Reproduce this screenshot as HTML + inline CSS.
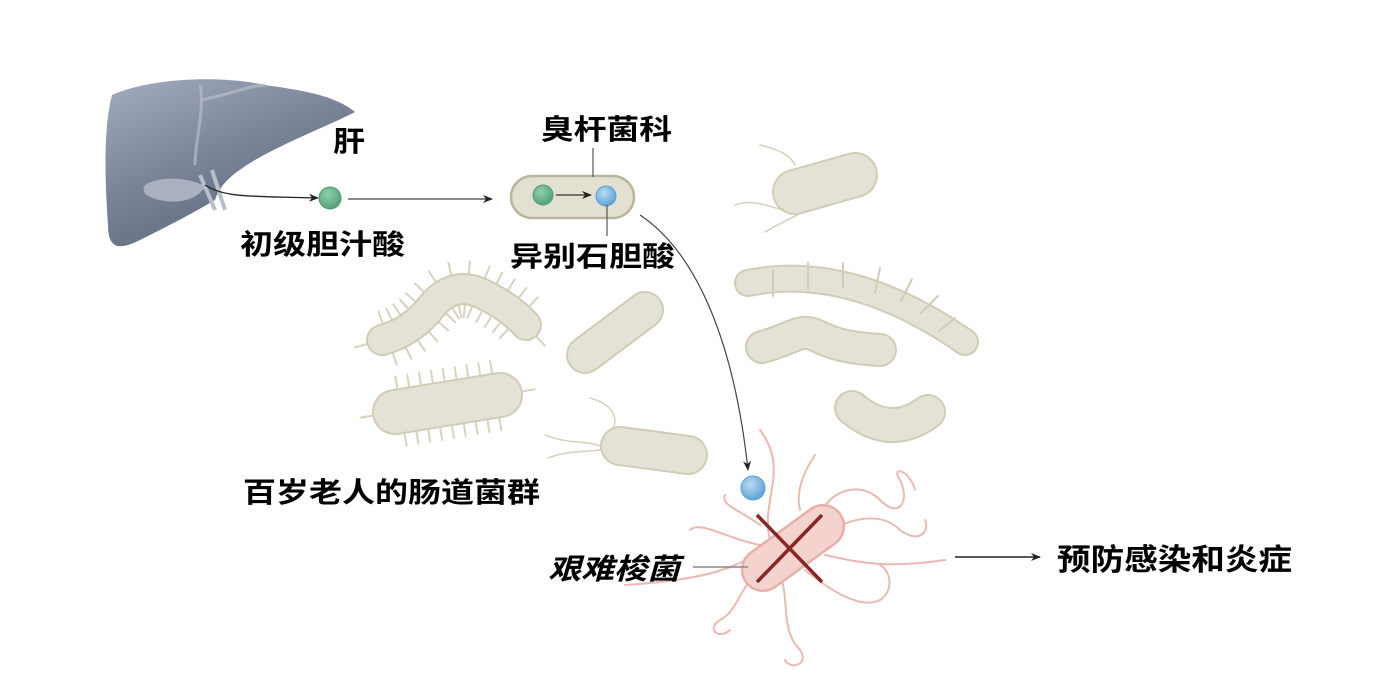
<!DOCTYPE html>
<html><head><meta charset="utf-8">
<style>
html,body{margin:0;padding:0;background:#fff;}
svg{display:block;}
text{font-family:"Liberation Sans","Noto Sans CJK SC",sans-serif;fill:#000;font-weight:bold;}
</style></head>
<body>
<svg id="s" width="1377" height="678" viewBox="0 0 1377 678" xmlns="http://www.w3.org/2000/svg">
<defs>
<linearGradient id="lv" x1="0" y1="0" x2="0.6" y2="1">
<stop offset="0" stop-color="#a4adbf"/><stop offset="0.5" stop-color="#7c8599"/><stop offset="1" stop-color="#5c6579"/>
</linearGradient>
<radialGradient id="gb" cx="0.4" cy="0.35" r="0.7"><stop offset="0" stop-color="#8fd0ad"/><stop offset="1" stop-color="#4f9f76"/></radialGradient>
<radialGradient id="bb" cx="0.4" cy="0.35" r="0.7"><stop offset="0" stop-color="#b9dcf3"/><stop offset="1" stop-color="#5a9fd3"/></radialGradient>
<marker id="ah" markerWidth="10" markerHeight="8" refX="9" refY="4" orient="auto" markerUnits="userSpaceOnUse"><path d="M0,0 L10,4 L0,8 L3,4 Z" fill="#222"/></marker>
</defs>

<!-- liver -->
<path d="M112,95 C150,78 220,75 265,85 C300,90 335,95 355,112 C330,125 290,140 255,160 C230,175 220,185 215,200 C190,215 160,230 140,240 C120,250 108,250 108,225 C105,180 103,130 112,95 Z" fill="url(#lv)"/>
<path d="M145,185 C160,175 190,178 205,186 C200,198 180,205 160,200 C148,198 140,192 145,185 Z" fill="#a9b1c1"/>
<path d="M200,175 L215,210 M212,170 L225,210" stroke="#b8bfcc" stroke-width="4" fill="none"/>
<path d="M200,85 C205,110 195,140 195,165 M200,100 C230,95 250,85 265,85" stroke="#b6bdcb" stroke-width="3" fill="none" opacity="0.7"/>
<path d="M205,185 C225,198 250,196 318,198" stroke="#222" stroke-width="1.3" fill="none" marker-end="url(#ah)"/>
<text x="333" y="151" font-size="28" textLength="32" lengthAdjust="spacingAndGlyphs">肝</text>
<circle cx="330" cy="198" r="11" fill="url(#gb)" stroke="#4f9a73" stroke-width="1"/>
<text x="240" y="254" font-size="28" textLength="165" lengthAdjust="spacingAndGlyphs">初级胆汁酸</text>
<line x1="348" y1="199" x2="492" y2="199" stroke="#444" stroke-width="1.2" marker-end="url(#ah)"/>

<!-- background bacteria -->
<g stroke-linecap="round" fill="none" id="bg">
 <g id="hairs" stroke="#d6d3c0" stroke-width="2"></g>
 <path id="h1" d="M382,340 Q412,332 432,306 Q452,282 478,292 Q508,305 526,325" stroke="#d0ccb6" stroke-width="32"/>
 <path d="M382,340 Q412,332 432,306 Q452,282 478,292 Q508,305 526,325" stroke="#e4e2d6" stroke-width="28"/>
 <path id="h2" d="M395,412 L500,395" stroke="#d0ccb6" stroke-width="46"/>
 <path d="M395,412 L500,395" stroke="#e4e2d6" stroke-width="42"/>
 <path d="M585,355 L645,310" stroke="#d0ccb6" stroke-width="38"/>
 <path d="M585,355 L645,310" stroke="#e4e2d6" stroke-width="34"/>
 <path d="M545,435 C570,445 590,440 602,447 M548,458 C570,450 585,452 602,450 M610,435 C620,420 615,405 590,398" stroke="#d4d0bd" stroke-width="1.5"/>
 <path d="M620,446 L688,455" stroke="#d0ccb6" stroke-width="40"/>
 <path d="M620,446 L688,455" stroke="#e4e2d6" stroke-width="36"/>
 <path d="M735,205 C755,198 770,208 785,210 M760,145 C780,150 790,155 795,165 M765,232 C785,220 800,215 815,205" stroke="#d4d0bd" stroke-width="1.5"/>
 <path d="M795,192 L855,175" stroke="#d0ccb6" stroke-width="46"/>
 <path d="M795,192 L855,175" stroke="#e4e2d6" stroke-width="42"/>
 <path d="M748,283 Q850,262 965,342" stroke="#d0ccb6" stroke-width="28"/>
 <path d="M748,283 Q850,262 965,342" stroke="#e4e2d6" stroke-width="24"/>
 <path d="M773,270 L773,296 M808,263 L808,289 M843,263 L843,288 M880,268 L875,293 M912,279 L901,301 M938,296 L921,313 M955,318 L939,331" stroke="#d0ccb6" stroke-width="2"/>
 <path d="M762,347 C790,340 800,328 815,335 C835,345 850,348 880,350" stroke="#d0ccb6" stroke-width="34"/>
 <path d="M762,347 C790,340 800,328 815,335 C835,345 850,348 880,350" stroke="#e4e2d6" stroke-width="30"/>
 <path d="M852,408 Q890,440 928,412" stroke="#d0ccb6" stroke-width="36"/>
 <path d="M852,408 Q890,440 928,412" stroke="#e4e2d6" stroke-width="32"/>
</g>

<rect x="511" y="176" width="123" height="42" rx="21" fill="#e3e0d2" stroke="#b9b49c" stroke-width="2.5"/>
<circle cx="543" cy="195" r="10" fill="url(#gb)" stroke="#4f9a73"/>
<line x1="556" y1="195" x2="591" y2="195" stroke="#333" stroke-width="1.3" marker-end="url(#ah)"/>
<circle cx="606" cy="196" r="10" fill="url(#bb)" stroke="#5a9fd3"/>
<line x1="593" y1="148" x2="593" y2="177" stroke="#555" stroke-width="1.2"/>
<line x1="607" y1="205" x2="607" y2="236" stroke="#555" stroke-width="1.2"/>
<text x="541" y="139" font-size="28" textLength="131" lengthAdjust="spacingAndGlyphs">臭杆菌科</text>
<text x="510" y="266" font-size="28" textLength="165" lengthAdjust="spacingAndGlyphs">异别石胆酸</text>
<path d="M640,215 C700,255 735,350 748,470" stroke="#444" stroke-width="1.2" fill="none" marker-end="url(#ah)"/>
<circle cx="753" cy="488" r="12" fill="url(#bb)" stroke="#5a9fd3"/>
<text x="243" y="502" font-size="28" textLength="297" lengthAdjust="spacingAndGlyphs">百岁老人的肠道菌群</text>

<g stroke="#ebb8b2" stroke-width="2" fill="none" stroke-linecap="round">
 <path d="M770,540 C760,500 790,470 760,430"/>
 <path d="M760,525 C740,510 720,505 725,495"/>
 <path d="M760,545 C730,540 700,520 690,530"/>
 <path d="M755,555 C730,570 700,580 625,585"/>
 <path d="M765,570 C740,580 740,610 720,620 C705,630 720,640 730,630"/>
 <path d="M780,575 C790,600 780,630 800,650 C810,665 790,670 785,660"/>
 <path d="M805,570 C830,590 860,610 880,600 C895,590 890,570 880,565"/>
 <path d="M825,555 C850,560 880,570 945,560"/>
 <path d="M830,530 C850,520 880,510 900,530 C920,545 930,530 925,520"/>
 <path d="M820,515 C830,490 860,480 880,500 C900,520 910,500 900,480 C890,465 910,470 915,490"/>
 <path d="M800,510 C795,490 805,470 815,455"/>
</g>
<g transform="translate(793,548) rotate(-36)">
 <rect x="-58" y="-21" width="116" height="42" rx="21" fill="#f4d2ce" stroke="#e7b0aa" stroke-width="2.5"/>
</g>
<line x1="757" y1="515" x2="822" y2="582" stroke="#8a2525" stroke-width="3.5"/>
<line x1="822" y1="515" x2="757" y2="582" stroke="#8a2525" stroke-width="3.5"/>
<line x1="693" y1="567" x2="748" y2="567" stroke="#888" stroke-width="1.5"/>
<text x="548" y="579" font-size="29" font-style="italic" textLength="132" lengthAdjust="spacingAndGlyphs">艰难梭菌</text>

<line x1="955" y1="557" x2="1040" y2="557" stroke="#222" stroke-width="1.5" marker-end="url(#ah)"/>
<text x="1057" y="570" font-size="30" textLength="235" lengthAdjust="spacingAndGlyphs">预防感染和炎症</text>
</svg>
<script>
(function(){
 var ns="http://www.w3.org/2000/svg",g=document.getElementById("hairs");
 function hair(id,half,len,step){
  var p=document.getElementById(id),L=p.getTotalLength();
  for(var s=6;s<L-4;s+=step){
   var a=p.getPointAtLength(s),b=p.getPointAtLength(Math.min(L,s+1)),dx=b.x-a.x,dy=b.y-a.y,m=Math.hypot(dx,dy)||1;
   var nx=-dy/m,ny=dx/m;
   [1,-1].forEach(function(sg,i){
    var o=(i?step/2:0);
    var l=document.createElementNS(ns,"line");
    l.setAttribute("x1",a.x+sg*nx*half);l.setAttribute("y1",a.y+sg*ny*half);
    l.setAttribute("x2",a.x+sg*nx*(half+len));l.setAttribute("y2",a.y+sg*ny*(half+len));
    g.appendChild(l);
   });
  }
  var e=p.getPointAtLength(L),e2=p.getPointAtLength(L-1),ex=(e.x-e2.x),ey=(e.y-e2.y);
  var l=document.createElementNS(ns,"line");l.setAttribute("x1",e.x);l.setAttribute("y1",e.y);l.setAttribute("x2",e.x+ex*(half+len));l.setAttribute("y2",e.y+ey*(half+len));g.appendChild(l);
  var s0=p.getPointAtLength(0),s1=p.getPointAtLength(1);
  l=document.createElementNS(ns,"line");l.setAttribute("x1",s0.x);l.setAttribute("y1",s0.y);l.setAttribute("x2",s0.x-(s1.x-s0.x)*(half+len));l.setAttribute("y2",s0.y-(s1.y-s0.y)*(half+len));g.appendChild(l);
 }
 hair("h1",14,14,12);
 hair("h2",21,14,12);
})();
</script>
</body></html>
